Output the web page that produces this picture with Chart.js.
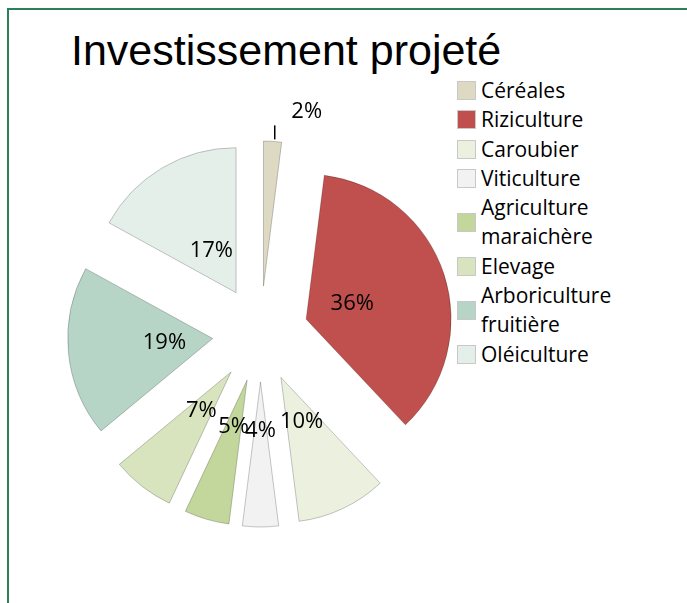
<!DOCTYPE html>
<html>
<head>
<meta charset="utf-8">
<script src="https://cdn.jsdelivr.net/npm/chart.js@4"></script>
<style>
    body { margin: 0; background: #fff; }
    #frame {
        position: absolute; left: 7px; top: 8px; width: 700px; height: 620px;
        border-left: 2px solid #2e7d5b; border-top: 2px solid #2e7d5b;
    }
    #title {
        position: absolute; left: 71px; top: 29px;
        font: 43px "Liberation Sans", Arial, sans-serif; line-height: 43px; color: #000;
    }
    #legend {
        position: absolute; left: 457px; top: 76px;
        font: 21px "Open Sans", sans-serif; line-height: 29.3px; color: #000;
    }
    .item { display: flex; align-items: center; }
    .box { width: 17px; height: 17px; border: 1px solid #c8c8c8; margin-right: 5px; flex: none; }
    canvas { position: absolute; left: 0; top: 0; }
</style>
</head>
<body>
<div id="frame"></div>
<div id="title">Investissement projeté</div>
<div id="legend"></div>
<canvas id="pie" width="687" height="603"></canvas>
<script>
const categories = ['Céréales', 'Riziculture', 'Caroubier', 'Viticulture',
    'Agriculture\nmaraichère', 'Elevage', 'Arboriculture\nfruitière', 'Oléiculture'];
const shares = [2, 36, 10, 4, 5, 7, 19, 17];
const sliceColors = ['#ddd9c3', '#c0504d', '#ebf1de', '#f2f2f2',
    '#c3d69b', '#d7e4bd', '#b7d5c6', '#e5efea'];

// legend on the right
const legendEl = document.getElementById('legend');
for (let x = 0; x < categories.length; x++) {
    const row = document.createElement('div');
    row.className = 'item';
    row.innerHTML = '<div class="box" style="background:' + sliceColors[x] + '"></div><div>' +
        categories[x].replace('\n', '<br>') + '</div>';
    legendEl.appendChild(row);
}

// chart.js moves an arc by offset / 4, grows its radius by (offset / 4) * (1 - sin(circumference))
// and trims its angle by that growth / (PI * radius). undo both so slices look like excel's explode
const evenExplode = {
    id: 'evenExplode',
    beforeDatasetsDraw(chart) {
        const meta = chart.getDatasetMeta(0);
        const R = meta.controller.outerRadius;
        meta.data.forEach(arc => {
            const circ = arc.circumference;
            const grow = (arc.options.offset / 4) * (1 - Math.sin(Math.min(Math.PI, circ)));
            const mid = (arc.startAngle + arc.endAngle) / 2;
            const trim = grow / (Math.PI * R);
            arc.outerRadius = R - grow;
            arc.startAngle = mid - circ / 2 - trim / 2;
            arc.endAngle = mid + circ / 2 + trim / 2;
        });
    }
};

// percent labels, small slices go outside with a short leader
const pctLabels = {
    id: 'pctLabels',
    afterDatasetsDraw(chart) {
        const ctx = chart.ctx;
        const meta = chart.getDatasetMeta(0);
        const R = meta.controller.outerRadius;
        const total = shares.reduce((a, b) => a + b, 0);
        ctx.save();
        ctx.font = '22px "Open Sans", sans-serif';
        ctx.fillStyle = '#000';
        ctx.textAlign = 'center';
        ctx.textBaseline = 'middle';
        meta.data.forEach((arc, i) => {
            const txt = Math.round(shares[i] / total * 100) + '%';
            const mid = (arc.startAngle + arc.endAngle) / 2;
            const shift = arc.options.offset / 4;
            if (shares[i] < 3) {
                const r = R + shift + 2;
                const px = arc.x + Math.cos(mid) * r;
                const py = arc.y + Math.sin(mid) * r;
                ctx.strokeStyle = '#000';
                ctx.lineWidth = 1.5;
                ctx.beginPath();
                ctx.moveTo(px + 2, py);
                ctx.lineTo(px + 2, py - 14);
                ctx.stroke();
                ctx.fillText(txt, px + 34, py - 28);
            } else {
                const r = (R + shift) / 2;
                ctx.fillText(txt, arc.x + Math.cos(mid) * r, arc.y + Math.sin(mid) * r);
            }
        });
        ctx.restore();
    }
};

new Chart(document.getElementById('pie').getContext('2d'), {
    type: 'pie',
    data: {
        labels: categories,
        datasets: [{
            data: shares,
            backgroundColor: sliceColors,
            borderColor: 'rgba(0,0,0,0.22)',
            borderWidth: 1,
            offset: 192
        }]
    },
    options: {
        responsive: false,
        animation: false,
        radius: 145,
        layout: { padding: { left: 21, right: 187, top: 98, bottom: 33 } },
        plugins: {
            legend: { display: false },
            tooltip: { enabled: false }
        }
    },
    plugins: [evenExplode, pctLabels]
});
</script>
</body>
</html>
